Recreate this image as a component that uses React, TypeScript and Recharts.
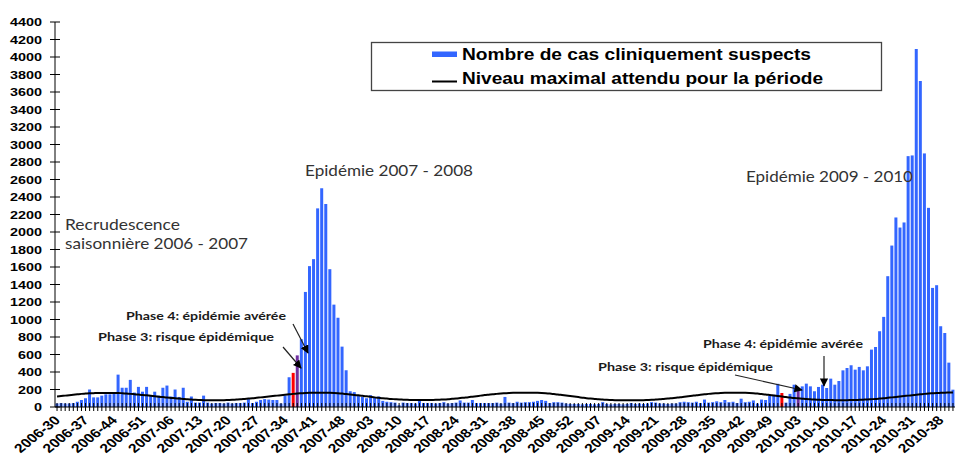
import React from "react";
import { ComposedChart, Bar, Line, XAxis, YAxis, Cell } from "recharts";

// seasons: year, first and last ISO week shown
const years = [2006, 2007, 2008, 2009, 2010];
const firstWeeks = [30, 1, 1, 1, 1];
const lastWeeks = [52, 52, 52, 53, 41];

// weekly clinically suspected cases
const cases2006 = [40, 45, 40, 40, 45, 60, 80, 100, 200, 110, 110, 130, 145, 145, 150, 370, 220, 220, 310, 165, 230, 175, 230];
const cases2007 = [
  125, 175, 130, 220, 245, 120, 200, 115, 220, 60, 120, 50, 50, 130, 50, 40, 45, 45, 40, 50, 40, 45, 45, 50, 90, 45,
  60, 80, 90, 85, 80, 80, 40, 130, 340, 390, 590, 775, 1315, 1610, 1690, 2270, 2500, 2320, 1575, 1170, 1020, 690, 420, 180, 170, 135,
];
const cases2008 = [
  115, 100, 135, 105, 120, 70, 60, 55, 50, 20, 50, 45, 45, 40, 70, 45, 45, 45, 40, 45, 55, 40, 45, 50, 75, 50,
  50, 80, 45, 45, 45, 45, 45, 50, 40, 115, 50, 45, 60, 50, 55, 55, 60, 70, 80, 70, 45, 55, 55, 50, 40, 35,
];
const cases2009 = [
  35, 35, 30, 35, 35, 30, 35, 55, 35, 30, 35, 35, 30, 35, 45, 35, 40, 35, 40, 55, 50, 40, 40, 35, 40, 40, 55,
  60, 55, 50, 60, 45, 85, 50, 55, 65, 55, 80, 55, 60, 45, 95, 55, 60, 75, 40, 85, 80, 130, 140, 265, 160, 50,
];
const cases2010 = [
  150, 255, 200, 236, 267, 236, 180, 229, 255, 217, 324, 255, 297, 419, 446, 477, 427, 458, 419, 465, 656,
  686, 866, 1030, 1495, 1845, 2166, 2051, 2109, 2867, 2875, 4091, 3725, 2898, 2276, 1361, 1392, 923, 846, 507, 198,
];

// expected maximum level for the period
const expected2006 = [120, 125, 130, 135, 140, 145, 150, 153, 156, 158, 160, 160, 160, 160, 160, 160, 158, 155, 150, 146, 142, 138, 133];
const expected2007 = [
  128, 123, 118, 113, 108, 104, 100, 96, 92, 88, 85, 82, 80, 78, 77, 76, 76, 77, 78, 80, 82, 85, 88, 92, 96, 100,
  105, 110, 115, 120, 125, 130, 135, 140, 145, 150, 154, 157, 160, 162, 163, 164, 164, 163, 162, 160, 157, 153, 148, 143, 138, 133,
];
const expected2008 = [
  128, 122, 116, 110, 105, 100, 96, 92, 89, 86, 84, 82, 81, 80, 80, 80, 80, 81, 82, 84, 86, 89, 93, 97, 102, 107,
  112, 118, 124, 130, 136, 141, 146, 150, 154, 157, 160, 162, 163, 164, 164, 164, 163, 162, 160, 157, 153, 148, 143, 137, 131, 125,
];
const expected2009 = [
  119, 113, 107, 101, 96, 92, 88, 85, 82, 80, 78, 77, 76, 76, 76, 76, 77, 78, 80, 82, 85, 88, 92, 96, 101, 106, 111,
  117, 123, 129, 135, 140, 145, 150, 154, 157, 160, 162, 163, 164, 164, 163, 162, 160, 157, 153, 148, 143, 137, 131, 125, 119, 113,
];
const expected2010 = [
  108, 103, 99, 95, 91, 88, 85, 83, 81, 80, 79, 78, 78, 78, 78, 79, 80, 82, 84, 86, 89,
  92, 96, 100, 105, 110, 115, 120, 125, 130, 135, 140, 145, 150, 154, 157, 160, 162, 164, 165, 166,
];

const phase3Weeks = ["2007-36", "2009-52"];
const phase4Weeks = ["2007-37", "2010-03"];

const xTickLabels = [
  "2006-30", "2006-37", "2006-44", "2006-51", "2007-06", "2007-13", "2007-20", "2007-27", "2007-34", "2007-41", "2007-48",
  "2008-03", "2008-10", "2008-17", "2008-24", "2008-31", "2008-38", "2008-45", "2008-52", "2009-07", "2009-14", "2009-21",
  "2009-28", "2009-35", "2009-42", "2009-49", "2010-03", "2010-10", "2010-17", "2010-24", "2010-31", "2010-38",
];
const yTicks = [0, 200, 400, 600, 800, 1000, 1200, 1400, 1600, 1800, 2000, 2200, 2400, 2600, 2800, 3000, 3200, 3400, 3600, 3800, 4000, 4200, 4400];

const casesByYear = [cases2006, cases2007, cases2008, cases2009, cases2010];
const expectedByYear = [expected2006, expected2007, expected2008, expected2009, expected2010];

const data: { week: string; cases: number; expected: number }[] = [];
years.forEach((year, s) => {
  for (let w = firstWeeks[s]; w <= lastWeeks[s]; w++) {
    const i = w - firstWeeks[s];
    data.push({
      week: `${year}-${String(w).padStart(2, "0")}`,
      cases: casesByYear[s][i],
      expected: expectedByYear[s][i],
    });
  }
});

const BLUE = "#3366ff";
const RED = "#ff0000";
const PURPLE = "#7030a0";
const FONT = "'Liberation Sans', Arial, sans-serif";
const NOTE_FONT = "Lato, 'Noto Sans', sans-serif";

function barColor(week: string) {
  if (phase3Weeks.includes(week)) return RED;
  if (phase4Weeks.includes(week)) return PURPLE;
  return BLUE;
}

function WeekTick(props: any) {
  const { x, y, payload } = props;
  const show = xTickLabels.includes(payload.value);
  return (
    <g>
      <line x1={x} x2={x} y1={y - 4} y2={y + 4} stroke="#000" strokeWidth={1} />
      {show && (
        <text
          transform={`translate(${x + 4},${y + 14}) scale(1.25,1) rotate(-45)`}
          textAnchor="end"
          fontSize={12.5}
          fontWeight="bold"
          fontFamily={FONT}
          fill="#000"
        >
          {payload.value}
        </text>
      )}
    </g>
  );
}

function CountTick(props: any) {
  const { x, y, payload } = props;
  return (
    <g>
      <line x1={x - 5} x2={x + 5} y1={y} y2={y} stroke="#000" strokeWidth={1} />
      <text
        transform={`translate(${x - 13},${y + 4}) scale(1.25,1)`}
        textAnchor="end"
        fontSize={11.5}
        fontWeight="bold"
        fontFamily={FONT}
        fill="#000"
      >
        {payload.value}
      </text>
    </g>
  );
}

export default function App() {
  return (
    <div style={{ position: "absolute", left: 0, top: 0, width: 956, height: 460, background: "#fff", fontFamily: FONT }}>
      <ComposedChart
        width={956}
        height={460}
        data={data}
        margin={{ top: 22, right: 1, bottom: 3, left: 0 }}
        barCategoryGap="12%"
      >
        <XAxis
          dataKey="week"
          interval={0}
          tick={<WeekTick />}
          tickLine={false}
          tickSize={0}
          tickMargin={0}
          height={50}
          axisLine={{ stroke: "#000" }}
        />
        <YAxis
          domain={[0, 4400]}
          ticks={yTicks}
          interval={0}
          width={55}
          tick={<CountTick />}
          tickLine={false}
          tickSize={0}
          tickMargin={0}
          axisLine={{ stroke: "#000" }}
        />
        <Bar dataKey="cases" isAnimationActive={false}>
          {data.map((d) => (
            <Cell key={d.week} fill={barColor(d.week)} />
          ))}
        </Bar>
        <Line
          dataKey="expected"
          type="monotone"
          stroke="#000"
          strokeWidth={2}
          dot={false}
          isAnimationActive={false}
        />
      </ComposedChart>

      <svg width={956} height={460} style={{ position: "absolute", left: 0, top: 0, pointerEvents: "none" }}>
        <defs>
          <marker id="head" viewBox="0 0 10 10" refX="9" refY="5" markerWidth="7" markerHeight="7" orient="auto">
            <path d="M0,0 L10,5 L0,10 z" fill="#000" />
          </marker>
        </defs>

        {/* legend */}
        <rect x={371.5} y={42.5} width={510} height={48} fill="#fff" stroke="#444" strokeWidth={1.3} />
        <rect x={432} y={51.5} width={25} height={5.5} fill={BLUE} />
        <line x1={432} x2={457} y1={81.5} y2={81.5} stroke="#000" strokeWidth={2} />
        <text x={462} y={60} fontSize={16} fontWeight="bold" fontFamily={FONT} textLength={349} lengthAdjust="spacingAndGlyphs">
          Nombre de cas cliniquement suspects
        </text>
        <text x={462} y={83.5} fontSize={16} fontWeight="bold" fontFamily={FONT} textLength={361} lengthAdjust="spacingAndGlyphs">
          Niveau maximal attendu pour la période
        </text>

        {/* season notes */}
        <g fontFamily={NOTE_FONT} fontSize={15} fill="#333">
          <text x={65} y={230} textLength={115} lengthAdjust="spacingAndGlyphs">Recrudescence</text>
          <text x={65} y={249} textLength={183} lengthAdjust="spacingAndGlyphs">saisonnière 2006 - 2007</text>
          <text x={305} y={176} textLength={168} lengthAdjust="spacingAndGlyphs">Epidémie 2007 - 2008</text>
          <text x={746} y={182} textLength={167} lengthAdjust="spacingAndGlyphs">Epidémie 2009 - 2010</text>
        </g>

        {/* phase notes */}
        <g fontFamily={NOTE_FONT} fontSize={12} fontWeight="bold" fill="#1a1a1a" style={{ whiteSpace: "pre" }}>
          <text x={126} y={320} textLength={160} lengthAdjust="spacingAndGlyphs">Phase 4: épidémie avérée</text>
          <text x={98} y={341} textLength={176} lengthAdjust="spacingAndGlyphs">Phase 3:  risque épidémique</text>
          <text x={703} y={348} textLength={160} lengthAdjust="spacingAndGlyphs">Phase 4: épidémie avérée</text>
          <text x={598} y={371} textLength={175} lengthAdjust="spacingAndGlyphs">Phase 3:  risque épidémique</text>
        </g>

        {/* arrows */}
        <g stroke="#222" strokeWidth={1.2} markerEnd="url(#head)">
          <line x1={283} y1={347} x2={301} y2={368} />
          <line x1={293} y1={324} x2={308} y2={353} />
          <line x1={735} y1={375} x2={802} y2={390} />
          <line x1={824} y1={356} x2={824} y2={386} />
        </g>
      </svg>
    </div>
  );
}
